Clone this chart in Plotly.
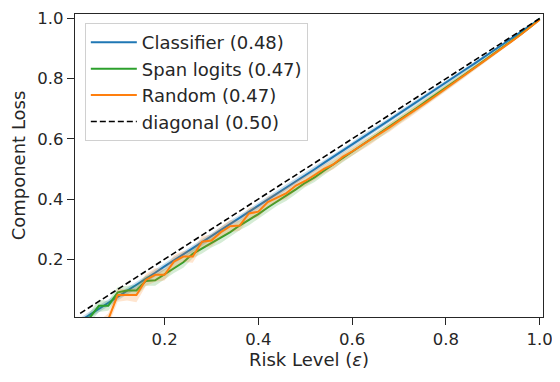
import plotly.graph_objects as go

# risk levels (x grid)
eps = [round(0.02 * k, 2) for k in range(1, 51)]

classifier = [
    -0.005, 0.015, 0.035, 0.055, 0.075, 0.094, 0.113, 0.134, 0.155, 0.176,
    0.196, 0.216, 0.236, 0.256, 0.276, 0.297, 0.317, 0.337, 0.357, 0.377,
    0.398, 0.418, 0.438, 0.459, 0.479, 0.499, 0.520, 0.540, 0.561, 0.581,
    0.602, 0.622, 0.643, 0.663, 0.684, 0.705, 0.725, 0.746, 0.767, 0.787,
    0.808, 0.829, 0.849, 0.870, 0.891, 0.912, 0.933, 0.955, 0.977, 1.000,
]
classifier_spread = [
    0.010, 0.012, 0.012, 0.011, 0.012, 0.011, 0.012, 0.010, 0.011, 0.012,
    0.011, 0.010, 0.012, 0.011, 0.010, 0.011, 0.012, 0.010, 0.011, 0.010,
    0.011, 0.010, 0.011, 0.010, 0.010, 0.011, 0.010, 0.009, 0.010, 0.009,
    0.010, 0.009, 0.009, 0.008, 0.009, 0.008, 0.008, 0.007, 0.008, 0.007,
    0.007, 0.006, 0.006, 0.005, 0.005, 0.004, 0.004, 0.003, 0.002, 0.001,
]

span_logits = [
    -0.030, 0.005, 0.045, 0.045, 0.090, 0.096, 0.096, 0.128, 0.130, 0.150,
    0.170, 0.190, 0.218, 0.236, 0.255, 0.272, 0.290, 0.312, 0.330, 0.350,
    0.372, 0.392, 0.410, 0.432, 0.454, 0.472, 0.494, 0.515, 0.535, 0.556,
    0.578, 0.598, 0.618, 0.640, 0.662, 0.683, 0.705, 0.727, 0.748, 0.770,
    0.792, 0.814, 0.836, 0.858, 0.880, 0.903, 0.925, 0.948, 0.972, 0.998,
]
span_spread = [
    0.015, 0.018, 0.020, 0.016, 0.018, 0.015, 0.019, 0.016, 0.018, 0.017,
    0.016, 0.018, 0.015, 0.017, 0.016, 0.018, 0.015, 0.016, 0.017, 0.015,
    0.016, 0.014, 0.016, 0.015, 0.014, 0.015, 0.014, 0.013, 0.014, 0.013,
    0.013, 0.012, 0.013, 0.012, 0.012, 0.011, 0.011, 0.010, 0.010, 0.009,
    0.009, 0.008, 0.008, 0.007, 0.006, 0.006, 0.005, 0.004, 0.003, 0.002,
]

random_sel = [
    -0.050, -0.040, -0.030, 0.000, 0.081, 0.081, 0.081, 0.131, 0.148, 0.148,
    0.192, 0.209, 0.209, 0.258, 0.262, 0.290, 0.310, 0.312, 0.352, 0.358,
    0.390, 0.405, 0.420, 0.445, 0.460, 0.480, 0.500, 0.515, 0.540, 0.558,
    0.578, 0.596, 0.618, 0.638, 0.660, 0.680, 0.702, 0.723, 0.745, 0.767,
    0.790, 0.812, 0.834, 0.856, 0.878, 0.901, 0.924, 0.947, 0.970, 0.996,
]
random_spread = [
    0.020, 0.022, 0.025, 0.020, 0.022, 0.018, 0.024, 0.020, 0.023, 0.019,
    0.022, 0.018, 0.021, 0.019, 0.020, 0.018, 0.020, 0.017, 0.019, 0.018,
    0.018, 0.016, 0.018, 0.016, 0.017, 0.016, 0.015, 0.016, 0.015, 0.014,
    0.015, 0.014, 0.013, 0.014, 0.013, 0.012, 0.012, 0.011, 0.011, 0.010,
    0.010, 0.009, 0.008, 0.008, 0.007, 0.006, 0.005, 0.004, 0.003, 0.002,
]

series = [
    ("Classifier (0.48)", classifier, classifier_spread, "#1f77b4", "rgba(31,119,180,0.25)"),
    ("Span logits (0.47)", span_logits, span_spread, "#2ca02c", "rgba(44,160,44,0.2)"),
    ("Random (0.47)", random_sel, random_spread, "#ff7f0e", "rgba(255,127,14,0.2)"),
]

fig = go.Figure()

for name, values, spread, color, fill in series:
    upper = [v + s for v, s in zip(values, spread)]
    lower = [v - s for v, s in zip(values, spread)]
    fig.add_trace(go.Scatter(
        x=eps + eps[::-1],
        y=upper + lower[::-1],
        fill="toself",
        fillcolor=fill,
        line=dict(width=0),
        hoverinfo="skip",
        showlegend=False,
    ))
    fig.add_trace(go.Scatter(
        x=eps, y=values, name=name, mode="lines",
        line=dict(color=color, width=2),
    ))

fig.add_trace(go.Scatter(
    x=eps, y=eps, name="diagonal (0.50)", mode="lines",
    line=dict(color="black", width=1.6, dash="6px,3px"),
))

axis_style = dict(
    showline=True, linecolor="#262626", linewidth=1.2, mirror=True,
    ticks="outside", ticklen=7, tickwidth=1.2, tickcolor="#262626",
    showgrid=False, zeroline=False, automargin=False,
    tickfont=dict(size=16.5, color="#262626"),
    tickvals=[0.2, 0.4, 0.6, 0.8, 1.0],
    ticktext=["0.2", "0.4", "0.6", "0.8", "1.0"],
)

# page body has an 8px margin, so the figure is shrunk by that amount
fig.update_layout(
    width=552, height=374,
    margin=dict(l=67, r=17, t=6, b=65),
    paper_bgcolor="white", plot_bgcolor="white",
    font=dict(family="DejaVu Sans", color="#262626"),
    xaxis=dict(axis_style, range=[0.009, 1.007],
               title=dict(text="Risk Level (<i>ε</i>)", font=dict(size=18), standoff=4)),
    yaxis=dict(axis_style, range=[0.008, 1.015],
               title=dict(text="Component Loss", font=dict(size=18), standoff=8)),
    legend=dict(
        x=0.021, y=0.97, xanchor="left", yanchor="top",
        bgcolor="rgba(255,255,255,0.85)", bordercolor="#d0d0d0", borderwidth=1,
        font=dict(size=18, color="#262626"), tracegroupgap=0, itemwidth=46,
    ),
)

fig.write_html("out.html")
